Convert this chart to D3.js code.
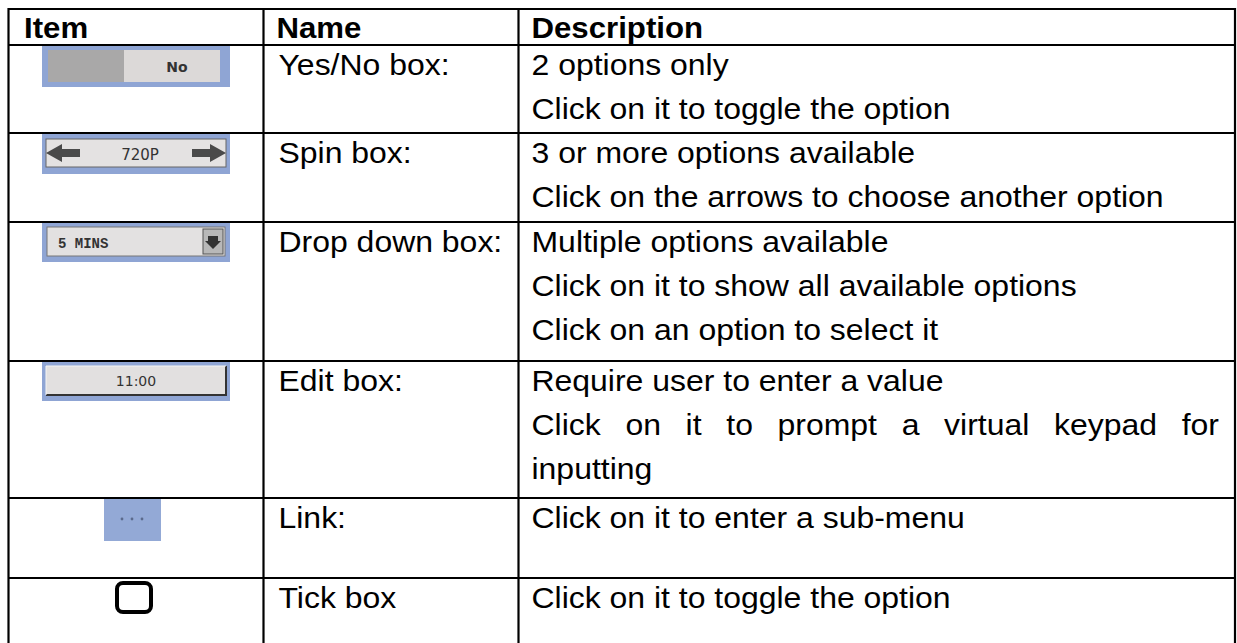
<!DOCTYPE html>
<html><head><meta charset="utf-8">
<script src="https://cdn.jsdelivr.net/npm/d3@7"></script>
<style>html,body{margin:0;padding:0;background:#fff;}svg{display:block;}</style>
</head><body>
<svg id="chart" width="1237" height="643"></svg>
<script>
// ---- data ----
const headers = ["Item", "Name", "Description"];
const itemKinds = ["yesno", "spin", "dropdown", "edit", "link", "tick"];
const itemLabels = ["No", "720P", "5 MINS", "11:00", "...", ""];
const names = ["Yes/No box:", "Spin box:", "Drop down box:", "Edit box:", "Link:", "Tick box"];
const descriptions = [
  ["2 options only", "Click on it to toggle the option"],
  ["3 or more options available", "Click on the arrows to choose another option"],
  ["Multiple options available", "Click on it to show all available options", "Click on an option to select it"],
  ["Require user to enter a value", "Click on it to prompt a virtual keypad for", "inputting"],
  ["Click on it to enter a sub-menu"],
  ["Click on it to toggle the option"]
];
const justifiedLines = ["Click on it to prompt a virtual keypad for"];

// ---- layout ----
const W = 1237, H = 643;
const colEdges = [8.5, 263.5, 518.5, 1235];
const headerTop = 9, headerBottom = 45;
const rowHeights = [88, 89, 139, 137, 80, 80];
const rowTops = [];
{ let y = headerBottom; rowHeights.forEach(h => { rowTops.push(y); y += h; }); rowTops.push(y); }
const FONT = "'Liberation Sans', Arial, sans-serif";
const fs = 30, sx = 1.065, hsx = 1.04;

const svg = d3.select("#chart");
const x = d3.scaleOrdinal().domain(headers).range(colEdges.slice(0, 3));
const rowY = d3.scaleOrdinal().domain(d3.range(names.length)).range(rowTops);
const lineY = d3.scaleLinear().domain([0, 1]).range([30, 74]); // baseline offset per line index

// header text
svg.selectAll("text.hdr").data(headers).join("text")
  .attr("class", "hdr")
  .attr("transform", d => `translate(${x(d) + (d === "Item" ? 15.5 : 13)},38) scale(${hsx},1)`)
  .attr("font-family", FONT).attr("font-weight", "bold").attr("font-size", fs)
  .attr("fill", "#000").text(d => d);

// names
svg.selectAll("text.name").data(names).join("text")
  .attr("class", "name")
  .attr("transform", (d, i) => `translate(${x("Name") + 15},${rowY(i) + lineY(0)}) scale(${sx},1)`)
  .attr("font-family", FONT).attr("font-size", fs).attr("fill", "#000")
  .text(d => d);

// descriptions
const descX = x("Description") + 13;
const descW = colEdges[3] - 16 - descX;
const descG = svg.selectAll("g.desc").data(descriptions).join("g").attr("class", "desc")
  .attr("transform", (d, i) => `translate(${descX},${rowY(i)})`);
descG.selectAll("g.line").data(d => d).join("g").attr("class", "line")
  .attr("transform", (d, j) => `translate(0,${lineY(j)}) scale(${sx},1)`)
  .each(function(d) {
    const g = d3.select(this);
    if (justifiedLines.includes(d)) {
      const words = d.split(" ");
      const texts = g.selectAll("text").data(words).join("text")
        .attr("font-family", FONT).attr("font-size", fs).attr("fill", "#000").text(w => w);
      const widths = [];
      texts.each(function() { widths.push(this.getComputedTextLength()); });
      const avail = descW / sx;
      const gap = (avail - d3.sum(widths)) / (words.length - 1);
      let cur = 0;
      texts.attr("x", (w, k) => { const v = cur; cur += widths[k] + gap; return v; });
    } else {
      g.append("text").attr("font-family", FONT).attr("font-size", fs).attr("fill", "#000").text(d);
    }
  });

// ---- item widgets ----
const cx = (colEdges[0] + colEdges[1]) / 2;
const blue = "#8fa5d4";
const items = svg.selectAll("g.item").data(itemKinds).join("g").attr("class", "item")
  .attr("transform", (d, i) => `translate(${cx},${rowY(i)})`);

items.each(function(kind, i) {
  const g = d3.select(this);
  const label = itemLabels[i];
  if (kind === "yesno") {
    g.append("rect").attr("x", -94).attr("y", 1).attr("width", 188).attr("height", 41).attr("fill", blue);
    g.append("rect").attr("x", -88).attr("y", 5).attr("width", 76).attr("height", 32).attr("fill", "#a9a8a8");
    g.append("rect").attr("x", -12).attr("y", 5).attr("width", 96).attr("height", 32).attr("fill", "#dcd9d8");
    g.append("text").attr("x", 41).attr("y", 27).attr("text-anchor", "middle")
      .attr("font-family", "'DejaVu Sans', sans-serif").attr("font-size", 14).attr("font-weight", "bold").attr("fill", "#333").text(label);
  } else if (kind === "spin") {
    g.append("rect").attr("x", -94).attr("y", 1).attr("width", 188).attr("height", 40).attr("fill", blue);
    g.append("rect").attr("x", -90).attr("y", 6).attr("width", 180).attr("height", 28).attr("fill", "#e4e2e2").attr("stroke", "#666").attr("stroke-width", 1);
    const arrow = (dir) => {
      const t = dir < 0 ? -90 : 90, h = t - dir * 16, e = t - dir * 34;
      return `M${t},20 L${h},11 L${h},16 L${e},16 L${e},24 L${h},24 L${h},29 Z`;
    };
    g.append("path").attr("d", arrow(-1)).attr("fill", "#4a4a4a");
    g.append("path").attr("d", arrow(1)).attr("fill", "#4a4a4a");
    g.append("text").attr("x", 4).attr("y", 27).attr("text-anchor", "middle")
      .attr("font-family", "'DejaVu Sans', sans-serif").attr("font-size", 15).attr("fill", "#333").text(label);
  } else if (kind === "dropdown") {
    g.append("rect").attr("x", -94).attr("y", 1).attr("width", 188).attr("height", 39).attr("fill", blue);
    g.append("rect").attr("x", -89).attr("y", 5).attr("width", 178).attr("height", 29).attr("fill", "#e3e1e1").attr("stroke", "#777").attr("stroke-width", 1);
    g.append("text").attr("x", -78).attr("y", 26)
      .attr("font-family", "'Liberation Mono', 'DejaVu Sans Mono', monospace").attr("font-size", 14).attr("font-weight", "bold").attr("fill", "#333").text(label);
    g.append("rect").attr("x", 67).attr("y", 7).attr("width", 20).attr("height", 25).attr("fill", "#b8b8b8").attr("stroke", "#555").attr("stroke-width", 1);
    g.append("path").attr("d", "M72,14 L82,14 L82,19 L85,19 L77,27 L69,19 L72,19 Z").attr("fill", "#333");
  } else if (kind === "edit") {
    g.append("rect").attr("x", -94).attr("y", 1).attr("width", 188).attr("height", 39).attr("fill", blue);
    g.append("rect").attr("x", -90).attr("y", 5).attr("width", 180).attr("height", 29).attr("fill", "#e2e0e0");
    g.append("path").attr("d", "M90,5 L90,34 L-90,34").attr("fill", "none").attr("stroke", "#333").attr("stroke-width", 2);
    g.append("path").attr("d", "M-90,34 L-90,5 L90,5").attr("fill", "none").attr("stroke", "#f4f4f4").attr("stroke-width", 1);
    g.append("text").attr("x", 0).attr("y", 25).attr("text-anchor", "middle")
      .attr("font-family", "'DejaVu Sans', sans-serif").attr("font-size", 14).attr("fill", "#333").text(label);
  } else if (kind === "link") {
    g.append("rect").attr("x", -32).attr("y", 1).attr("width", 57).attr("height", 42).attr("fill", "#93a9d6");
    g.selectAll("circle").data([-14, -4, 6]).join("circle")
      .attr("cx", d => d).attr("cy", 21).attr("r", 1.4).attr("fill", "#5b6a8c");
  } else if (kind === "tick") {
    g.append("rect").attr("x", -19).attr("y", 5).attr("width", 34).attr("height", 29).attr("rx", 6)
      .attr("fill", "none").attr("stroke", "#000").attr("stroke-width", 4);
  }
});

// ---- grid lines ----
const lineColor = "#000";
const hLines = [headerTop, headerBottom].concat(rowTops.slice(1, rowTops.length - 1));
svg.selectAll("line.h").data(hLines).join("line").attr("class", "h")
  .attr("x1", colEdges[0]).attr("x2", colEdges[3])
  .attr("y1", d => d).attr("y2", d => d)
  .attr("stroke", lineColor).attr("stroke-width", 2.2);
svg.selectAll("line.v").data(colEdges).join("line").attr("class", "v")
  .attr("x1", d => d).attr("x2", d => d)
  .attr("y1", headerTop - 1).attr("y2", H + 5)
  .attr("stroke", lineColor).attr("stroke-width", 2.2);
</script>
</body></html>
